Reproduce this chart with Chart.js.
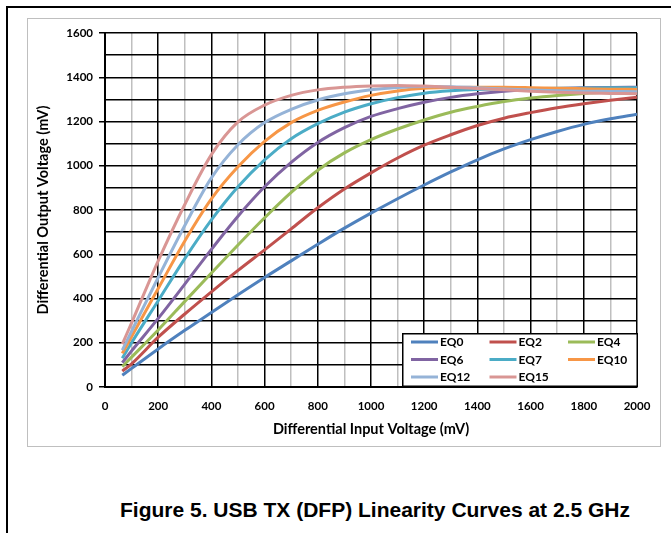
<!DOCTYPE html>
<html>
<head>
<meta charset="utf-8">
<script src="https://cdn.jsdelivr.net/npm/chart.js@4.4.1/dist/chart.umd.min.js"></script>
<style>
  html, body { margin: 0; padding: 0; background: #fff; }
  body { width: 671px; height: 533px; position: relative; overflow: hidden; }
  #frame { position: absolute; left: 6px; top: 6px; width: 665px; height: 527px;
           border-top: 2px solid #000; border-left: 2px solid #000; box-sizing: border-box; }
  #plotBox { position: absolute; left: 27px; top: 18px; width: 634px; height: 429px; }
  #plotBox canvas { position: absolute; left: 0; top: 0; }
  #plotBorder { position: absolute; left: 27px; top: 18px; width: 634px; height: 429px;
                border: 1px solid #bfbfbf; box-sizing: border-box; pointer-events: none; }
  #caption { position: absolute; left: 120px; top: 498px; white-space: nowrap; line-height: 26px;
             font: bold 21px "Liberation Sans", Arial, sans-serif; color: #000; }
</style>
</head>
<body>
<div id="frame"></div>
<div id="plotBox"><canvas id="chart" width="634" height="429"></canvas></div>
<div id="plotBorder"></div>
<div id="caption">Figure 5. USB TX (DFP) Linearity Curves at 2.5 GHz</div>
<script>
// Differential input voltage sweep (mV)
const inputMv = [65, 100, 200, 300, 400, 500, 600, 700, 800, 900, 1000,
                 1100, 1200, 1300, 1400, 1500, 1600, 1700, 1800, 1900, 2000];

// Differential output voltage (mV) per EQ setting
const eq0  = [53, 84, 172, 256, 337, 417, 495, 570, 645, 718, 786, 851, 913, 972, 1027, 1076, 1118, 1155, 1187, 1212, 1233];
const eq2  = [72, 105, 225, 330, 430, 527, 620, 715, 810, 895, 968, 1035, 1093, 1140, 1182, 1215, 1240, 1262, 1280, 1296, 1310];
const eq4  = [92, 135, 258, 387, 515, 642, 765, 880, 980, 1058, 1118, 1166, 1207, 1242, 1268, 1290, 1306, 1318, 1327, 1333, 1337];
const eq6  = [110, 163, 310, 465, 622, 772, 905, 1015, 1105, 1172, 1223, 1258, 1287, 1309, 1325, 1337, 1345, 1349, 1352, 1354, 1355];
const eq7  = [130, 200, 390, 580, 755, 905, 1027, 1122, 1190, 1242, 1280, 1308, 1328, 1339, 1345, 1347, 1348, 1350, 1351, 1352, 1352];
const eq10 = [152, 228, 445, 660, 850, 995, 1110, 1195, 1250, 1288, 1318, 1338, 1350, 1354, 1355, 1355, 1353, 1350, 1348, 1346, 1345];
const eq12 = [167, 252, 495, 730, 945, 1095, 1195, 1255, 1297, 1325, 1343, 1354, 1358, 1357, 1353, 1347, 1342, 1339, 1337, 1336, 1335];
const eq15 = [194, 290, 570, 825, 1050, 1198, 1274, 1318, 1343, 1355, 1361, 1363, 1360, 1355, 1349, 1343, 1337, 1332, 1329, 1327, 1325];

const seriesNames  = ['EQ0', 'EQ2', 'EQ4', 'EQ6', 'EQ7', 'EQ10', 'EQ12', 'EQ15'];
const seriesValues = [eq0, eq2, eq4, eq6, eq7, eq10, eq12, eq15];
const seriesColors = ['#4F81BD', '#C0504D', '#9BBB59', '#8064A2', '#4BACC6', '#F79646', '#95B3D7', '#D99694'];

// Labelled tick values
const xTickLabels = [0, 200, 400, 600, 800, 1000, 1200, 1400, 1600, 1800, 2000];
const yTickLabels = [0, 200, 400, 600, 800, 1000, 1200, 1400, 1600];

const FONT = 'Lato, "Open Sans", sans-serif';
Chart.defaults.font.family = FONT;
Chart.defaults.color = '#000';

// Boxed legend sitting in the lower-right corner of the plot
const boxLegend = {
  id: 'boxLegend',
  afterDatasetsDraw(chart) {
    const { ctx, chartArea } = chart;
    const w = 236, h = 54;
    const x0 = chartArea.right - w + 1, y0 = chartArea.bottom - h;
    ctx.save();
    ctx.fillStyle = '#fff';
    ctx.fillRect(x0, y0, w, h);
    ctx.strokeStyle = '#000';
    ctx.lineWidth = 1.5;
    ctx.strokeRect(x0 + 0.75, y0 + 0.75, w - 1.5, h - 1.5);
    ctx.font = 'bold 12px ' + FONT;
    ctx.textBaseline = 'middle';
    ctx.textAlign = 'left';
    chart.data.datasets.forEach((ds, i) => {
      const col = i % 3, row = Math.floor(i / 3);
      const sx = x0 + 9 + col * 78.5;
      const sy = y0 + 9 + row * 17.5;
      ctx.strokeStyle = ds.borderColor;
      ctx.lineWidth = 3;
      ctx.beginPath();
      ctx.moveTo(sx, sy);
      ctx.lineTo(sx + 27, sy);
      ctx.stroke();
      ctx.fillStyle = '#000';
      ctx.fillText(ds.label, sx + 29, sy + 0.5);
    });
    ctx.restore();
  }
};

const datasets = seriesNames.map((name, i) => ({
  label: name,
  data: inputMv.map((x, j) => ({ x: x, y: seriesValues[i][j] })),
  borderColor: seriesColors[i],
  backgroundColor: seriesColors[i],
  borderWidth: 3,
  pointRadius: 0,
  fill: false,
  cubicInterpolationMode: 'monotone',
  order: seriesNames.length - i
}));

new Chart(document.getElementById('chart'), {
  type: 'line',
  data: { datasets },
  options: {
    responsive: false,
    animation: false,
    devicePixelRatio: 1,
    layout: { padding: { left: 0, top: 15, right: 24, bottom: 0 } },
    plugins: { legend: { display: false }, tooltip: { enabled: false } },
    scales: {
      x: {
        type: 'linear', min: 0, max: 2000,
        afterFit: (s) => { s.height = 60; },
        ticks: {
          stepSize: 100, autoSkip: false, maxRotation: 0, padding: 4,
          font: { size: 11.5, weight: 'bold' },
          callback: (v) => xTickLabels.includes(v) ? String(v) : ''
        },
        grid: {
          color: (c) => (c.tick && c.tick.value % 200 === 0) ? '#000' : '#bfbfbf',
          lineWidth: 1.5, tickLength: 8, tickColor: 'rgba(0,0,0,0)'
        },
        border: { color: '#000', width: 2 },
        title: {
          display: true, text: 'Differential Input Voltage (mV)',
          font: { size: 14.5, weight: 'bold' }, padding: { top: 0, bottom: 9 }
        }
      },
      y: {
        min: 0, max: 1600,
        afterFit: (s) => { s.width = 78; },
        ticks: {
          stepSize: 100, autoSkip: false, padding: 6,
          font: { size: 11.5, weight: 'bold' },
          callback: (v) => yTickLabels.includes(v) ? String(v) : ''
        },
        grid: {
          color: '#000', lineWidth: 1.5, tickLength: 6,
          tickColor: (c) => (c.tick && c.tick.value % 200 === 0) ? '#000' : 'rgba(0,0,0,0)'
        },
        border: { color: '#000', width: 2 },
        title: {
          display: true, text: 'Differential Output Voltage (mV)',
          font: { size: 14.5, weight: 'bold' }, padding: { top: 8, bottom: 0 }
        }
      }
    }
  },
  plugins: [boxLegend]
});
</script>
</body>
</html>
